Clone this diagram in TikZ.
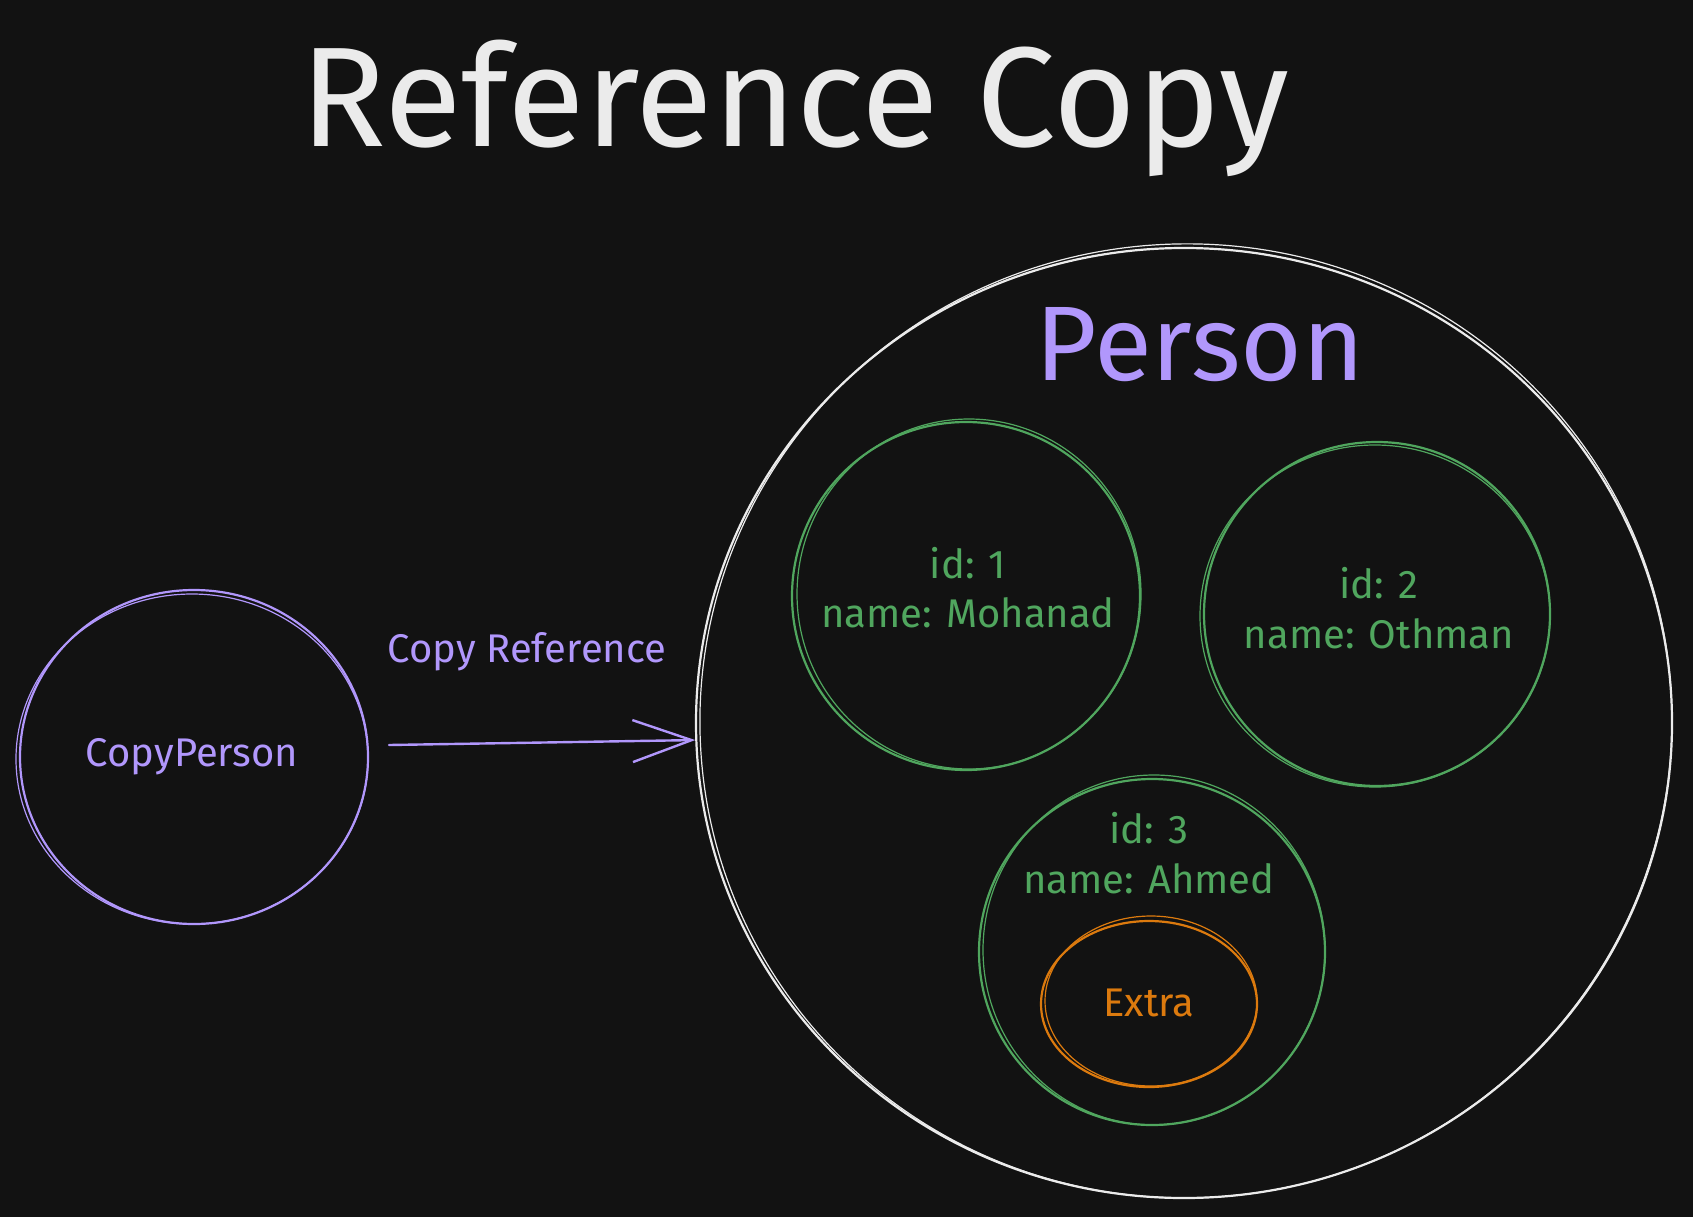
\documentclass[tikz,border=0pt]{standalone}
\usepackage{fontspec}
\setmainfont{Fira Sans}
\usetikzlibrary{arrows.meta,shapes.geometric}

\begin{document}
\begin{tikzpicture}[x=1pt, y=-1pt, line cap=round, line join=round,
		ring/.style={draw, ellipse, inner sep=0pt, line width=2.2pt},
		txt/.style={font=\fontsize{40}{48}\selectfont}]
			% Colors matching the original image
			\definecolor{bgdark}{HTML}{121212}
			\definecolor{chalk}{HTML}{EBEBEB}
			\definecolor{myviolet}{HTML}{B197FC}
			\definecolor{mygreen}{HTML}{50A65E}
			\definecolor{myorange}{HTML}{DC7A0E}
			
			% Background and bounds
			\fill[bgdark] (0,0) rectangle (1693,1217);
			\useasboundingbox (0,0) rectangle (1693,1217);
			
			% Title
			\node[chalk, font=\fontsize{142}{160}\selectfont] (title) at (795,108) {Reference Copy};
			
			% Outer object circle
			\node[ring, chalk, minimum width=976pt, minimum height=950pt] (person) at (1184,723) {};
			\draw[chalk, line width=1.2pt, rotate around={3:(1184,723)}] (1186,721) ellipse (486 and 477);
			\node[myviolet, font=\fontsize{106}{120}\selectfont] (personlbl) at (1200,345) {Person};
			
			% Field circles
			\node[ring, mygreen, minimum width=348pt, minimum height=348pt] (first) at (966,596) {};
			\draw[mygreen, line width=1.2pt] (969,594) ellipse (172 and 175);
			\node[txt, mygreen] (id1) at (968,563) {id: 1};
			\node[txt, mygreen] (name1) at (968,613) {name: Mohanad};
			
			\node[ring, mygreen, minimum width=346pt, minimum height=344pt] (second) at (1377,614) {};
			\draw[mygreen, line width=1.2pt] (1375,616) ellipse (175 and 171);
			\node[txt, mygreen] (id2) at (1379,583) {id: 2};
			\node[txt, mygreen] (name2) at (1379,634) {name: Othman};
			
			\node[ring, mygreen, minimum width=346pt, minimum height=346pt] (third) at (1152,952) {};
			\draw[mygreen, line width=1.2pt] (1154,950) ellipse (171 and 175);
			\node[txt, mygreen] (id3) at (1149,828) {id: 3};
			\node[txt, mygreen] (name3) at (1149,879) {name: Ahmed};
			
			% Nested object
			\node[ring, myorange, minimum width=216pt, minimum height=166pt] (extra) at (1149,1004) {};
			\draw[myorange, line width=1.2pt] (1151,1001) ellipse (106 and 85);
			\node[txt, myorange] (extralbl) at (1149,1003) {Extra};
			
			% Copy variable
			\node[ring, myviolet, minimum width=348pt, minimum height=334pt] (copy) at (194,757) {};
			\draw[myviolet, line width=1.2pt] (192,759) ellipse (176 and 165);
			\node[txt, myviolet] (copylbl) at (192,757) {CopyPerson};
			
			% Reference arrow
			\coordinate (refstart) at (389,745);
			\draw[myviolet, line width=2.4pt, -{Straight Barb[length=59pt, width=42pt, line width=2.4pt]}]
			(refstart) -- (person.182);
			\node[txt, myviolet] (reflbl) at (527,652) {Copy Reference};
		\end{tikzpicture}
\end{document}
